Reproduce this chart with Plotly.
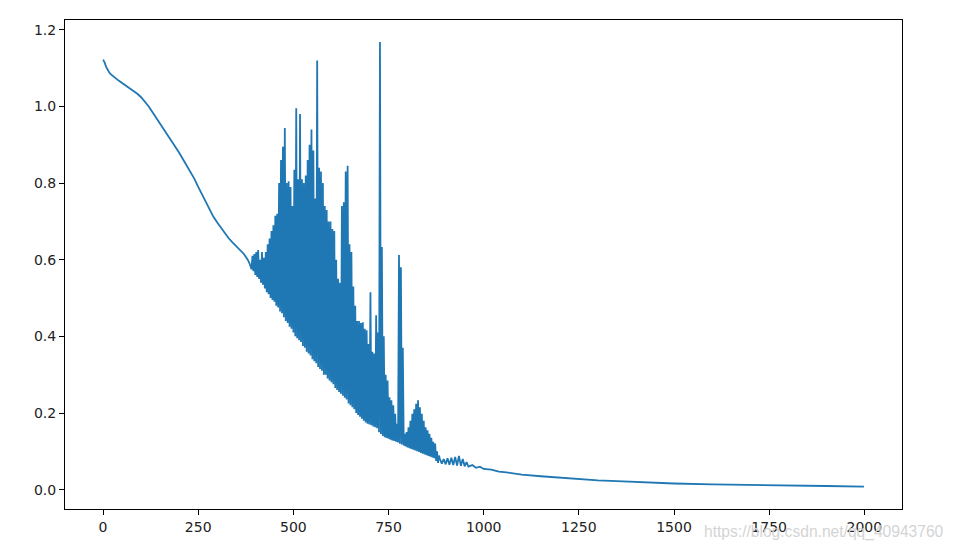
import plotly.graph_objects as go

# ---- data ----
# smooth descent at the start
smooth_x = [0, 4, 8, 12, 16, 20, 30, 40, 50, 60, 70, 80, 90, 100, 110, 120, 130, 140, 150,
            160, 170, 180, 190, 200, 210, 220, 230, 240, 250, 260, 270, 280, 290, 300, 310,
            320, 330, 340, 350, 360, 370, 380, 385]
smooth_y = [1.122, 1.115, 1.103, 1.095, 1.089, 1.084, 1.075, 1.068, 1.061, 1.054, 1.048,
            1.041, 1.033, 1.024, 1.013, 1.0, 0.985, 0.97, 0.956, 0.941, 0.926, 0.911, 0.896,
            0.879, 0.862, 0.845, 0.828, 0.811, 0.79, 0.77, 0.75, 0.731, 0.712, 0.697, 0.683,
            0.67, 0.656, 0.645, 0.635, 0.625, 0.615, 0.60, 0.59]

# oscillating section: step positions, lower and upper swings
noisy_x = list(range(390, 881, 5))
noisy_lo = [
    0.575, 0.57, 0.56, 0.555, 0.55, 0.54, 0.535, 0.525, 0.515, 0.51,
    0.50, 0.495, 0.49, 0.48, 0.475, 0.465, 0.46, 0.45, 0.44, 0.435,
    0.425, 0.42, 0.41, 0.40, 0.395, 0.39, 0.385, 0.375, 0.37, 0.36,
    0.355, 0.35, 0.34, 0.335, 0.33, 0.32, 0.315, 0.31, 0.30, 0.30,
    0.29, 0.285, 0.28, 0.275, 0.265, 0.26, 0.255, 0.25, 0.245, 0.24,
    0.235, 0.225, 0.22, 0.215, 0.21, 0.20, 0.195, 0.19, 0.185, 0.18,
    0.175, 0.172, 0.17, 0.168, 0.165, 0.163, 0.16, 0.15, 0.145, 0.14,
    0.137, 0.135, 0.133, 0.13, 0.128, 0.127, 0.125, 0.123, 0.12, 0.118,
    0.115, 0.113, 0.11, 0.108, 0.106, 0.104, 0.102, 0.10, 0.098, 0.096,
    0.094, 0.092, 0.09, 0.088, 0.086, 0.084, 0.082, 0.075, 0.07]
noisy_hi = [
    0.61, 0.615, 0.62, 0.625, 0.60, 0.62, 0.605, 0.62, 0.64, 0.655,
    0.675, 0.69, 0.715, 0.72, 0.80, 0.86, 0.895, 0.944, 0.80, 0.805,
    0.79, 0.74, 0.835, 0.995, 0.81, 0.98, 0.81, 0.80, 0.82, 0.86,
    0.90, 0.94, 0.885, 0.76, 1.12, 0.84, 0.83, 0.80, 0.74, 0.73,
    0.70, 0.70, 0.68, 0.675, 0.60, 0.55, 0.54, 0.74, 0.75, 0.83,
    0.845, 0.64, 0.62, 0.53, 0.48, 0.44, 0.44, 0.435, 0.437, 0.42,
    0.416, 0.38, 0.515, 0.36, 0.355, 0.455, 0.41, 1.168, 0.633, 0.40,
    0.30, 0.285, 0.241, 0.233, 0.22, 0.198, 0.172, 0.612, 0.58, 0.37,
    0.146, 0.15, 0.163, 0.18, 0.198, 0.21, 0.224, 0.233, 0.215, 0.198,
    0.18, 0.163, 0.155, 0.146, 0.135, 0.125, 0.12, 0.10, 0.089]

# slow tail
tail_x = [885, 890, 895, 900, 905, 910, 915, 920, 925, 930, 935, 940, 945, 950, 955, 960,
          970, 980, 990, 1000, 1020, 1040, 1060, 1080, 1100, 1150, 1200, 1250, 1300, 1350,
          1400, 1450, 1500, 1600, 1700, 1800, 1900, 1999]
tail_y = [0.08, 0.068, 0.08, 0.066, 0.082, 0.065, 0.083, 0.064, 0.085, 0.063, 0.088, 0.062,
          0.08, 0.061, 0.072, 0.06, 0.064, 0.057, 0.06, 0.054, 0.052, 0.047, 0.045, 0.041,
          0.039, 0.035, 0.031, 0.027, 0.024, 0.022, 0.02, 0.018, 0.016, 0.014, 0.012, 0.011,
          0.0095, 0.008]

x_ticks = [0, 250, 500, 750, 1000, 1250, 1500, 1750, 2000]
y_ticks = [0.0, 0.2, 0.4, 0.6, 0.8, 1.0, 1.2]

# ---- assemble the single series ----
xs = list(smooth_x)
ys = list(smooth_y)
for x, lo, hi in zip(noisy_x, noisy_lo, noisy_hi):
    xs += [x, x + 2.5]
    ys += [lo, hi]
xs += tail_x
ys += tail_y

fig = go.Figure()
fig.add_trace(go.Scatter(x=xs, y=ys, mode="lines",
                         line=dict(color="#1f77b4", width=1.8), showlegend=False))

axis_common = dict(showgrid=False, zeroline=False, showline=True, mirror=True,
                   linecolor="#000000", linewidth=1, ticks="outside", ticklen=5,
                   tickcolor="#000000", tickwidth=1,
                   tickfont=dict(family="DejaVu Sans", size=14, color="#222222"))

fig.update_xaxes(range=[-100, 2099], tickvals=x_ticks,
                 ticktext=[str(v) for v in x_ticks], **axis_common)
fig.update_yaxes(range=[-0.0505, 1.2255], tickvals=y_ticks,
                 ticktext=[f"{v:.1f}" for v in y_ticks], **axis_common)

fig.add_annotation(text="https://blog.csdn.net/qq_40943760", xref="paper", yref="paper",
                   x=0.7607, y=-0.047, xanchor="left", yanchor="middle", showarrow=False,
                   font=dict(family="Liberation Sans Narrow, Liberation Sans", size=15.6,
                             color="#d4d4d4"))

# the page adds an 8px body margin, so the figure is shrunk and shifted accordingly
fig.update_layout(width=946, height=542, margin=dict(l=57, r=52, t=12, b=41),
                  plot_bgcolor="white", paper_bgcolor="white")

fig.write_html("out.html")
